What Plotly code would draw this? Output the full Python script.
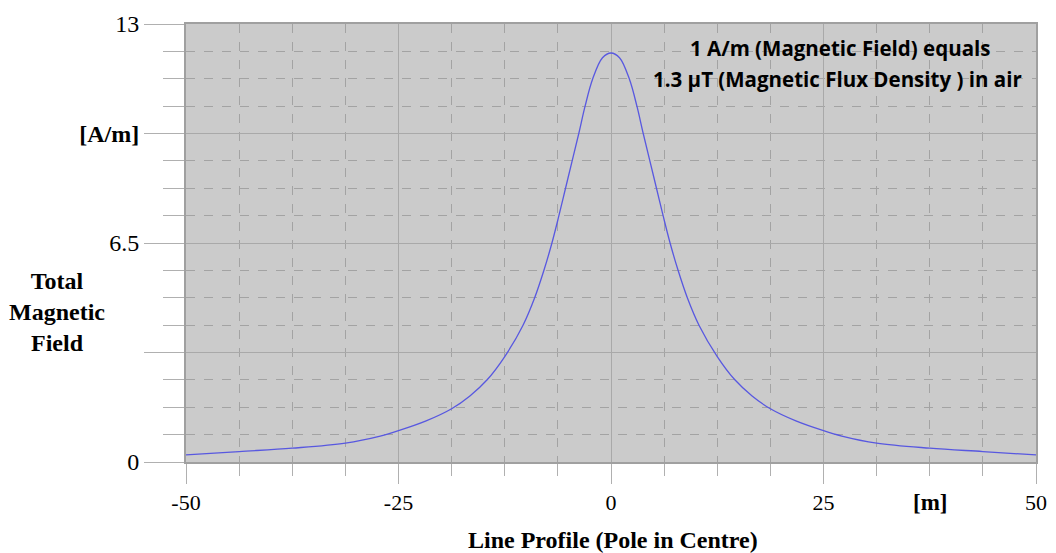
import plotly.graph_objects as go

# Data (symmetric profile, pole at 0 m)
x_pos = [-50, -43.75, -37.5, -31.25, -27.15, -25, -21.75, -18.75, -16.6, -14.57, -12.5, -10.35, -8.98, -7.89,
         -6.95, -6.13, -5.35, -4.57, -3.79, -3.05, -2.15, -1.0, 0,
         1.0, 2.15, 3.05, 3.79, 4.57, 5.35, 6.13, 6.95, 7.89, 8.98, 10.35, 12.5, 14.57, 16.6,
         18.75, 21.75, 25, 27.15, 31.25, 37.5, 43.75, 50]
field = [0.21, 0.31, 0.41, 0.56, 0.77, 0.93, 1.22, 1.58, 1.96, 2.44, 3.13, 4.06, 4.875, 5.69,
         6.50, 7.31, 8.125, 8.94, 9.75, 10.56, 11.375, 12.0, 12.14,
         12.0, 11.375, 10.56, 9.75, 8.94, 8.125, 7.31, 6.50, 5.69, 4.875, 4.06, 3.13, 2.44, 1.96,
         1.58, 1.22, 0.93, 0.77, 0.56, 0.41, 0.31, 0.21]

x_tickvals = [-50, -25, 0, 25, 50]
x_ticktext = ["-50", "-25", "0", "25", "50"]
y_tickvals = [0, 3.25, 6.5, 9.75, 13]
y_ticktext = ["0", "", "6.5", "<b>[A/m]</b>", "13"]

note_lines = ["1 A/m (Magnetic Field) equals", "1.3 µT (Magnetic Flux Density ) in air"]

serif = "Liberation Serif"
grid_col = "#a9a9a9"
minor_col = "#a3a3a3"
tick_col = "#b0b0b0"

fig = go.Figure()
fig.add_trace(go.Scatter(x=x_pos, y=field, mode="lines",
                         line=dict(color="#5858e0", width=1.3, shape="spline", smoothing=1.0),
                         hoverinfo="skip", showlegend=False))

# The page body has an 8px margin, so the figure is sized to fit inside the window.
fig.update_layout(
    width=1048, height=545,
    margin=dict(l=178, r=20, t=16, b=91, autoexpand=False),
    paper_bgcolor="white",
    plot_bgcolor="#cbcbcb",
    font=dict(family=serif, size=22, color="black"),
    showlegend=False,
)

fig.update_xaxes(
    range=[-50, 50], tickmode="array", tickvals=x_tickvals, ticktext=x_ticktext,
    automargin=False,
    showgrid=True, gridcolor=grid_col, gridwidth=1,
    ticks="outside", ticklen=20, tickcolor=tick_col, tickwidth=1,
    showline=True, linecolor="#a0a0a0", linewidth=2, mirror=True,
    zeroline=False,
    tickfont=dict(family=serif, size=22),
    minor=dict(tickmode="linear", tick0=-50, dtick=6.25, showgrid=True, gridcolor=minor_col,
               griddash="dash", gridwidth=1, ticks="outside", ticklen=12, tickcolor=tick_col),
)
fig.update_yaxes(
    range=[0, 13], tickmode="array", tickvals=y_tickvals, ticktext=y_ticktext,
    automargin=False,
    showgrid=True, gridcolor=grid_col, gridwidth=1,
    ticks="outside", ticklen=40, tickcolor=tick_col, tickwidth=1,
    showline=True, linecolor="#a0a0a0", linewidth=2, mirror=True,
    zeroline=False,
    tickfont=dict(family=serif, size=24),
    minor=dict(tickmode="linear", tick0=0, dtick=0.8125, showgrid=True, gridcolor=minor_col,
               griddash="dash", gridwidth=1, ticks="outside", ticklen=21, tickcolor=tick_col),
)

fig.add_annotation(text="<b>Total<br>Magnetic<br>Field</b>", xref="paper", yref="paper",
                   x=(57 - 186) / 850, y=(462 - 312) / 438, showarrow=False, align="center",
                   xanchor="center", yanchor="middle",
                   font=dict(family=serif, size=24, color="black"))
fig.add_annotation(text="<b>Line Profile (Pole in Centre)</b>", xref="paper", yref="paper",
                   x=(613 - 186) / 850, y=(462 - 540) / 438, showarrow=False,
                   xanchor="center", yanchor="middle",
                   font=dict(family=serif, size=24, color="black"))
fig.add_annotation(text="<b>[m]</b>", xref="x", yref="paper",
                   x=37.5, y=(462 - 502) / 438, showarrow=False,
                   xanchor="center", yanchor="middle",
                   font=dict(family=serif, size=23, color="black"))
for line_text, cx, cy in zip(note_lines, [840, 837], [48, 79]):
    fig.add_annotation(text="<b>" + line_text + "</b>", xref="paper", yref="paper",
                       x=(cx - 186) / 850, y=(462 - cy) / 438, showarrow=False,
                       xanchor="center", yanchor="middle",
                       font=dict(family="Open Sans", size=20.5, color="black"))

fig.write_html("out.html")
